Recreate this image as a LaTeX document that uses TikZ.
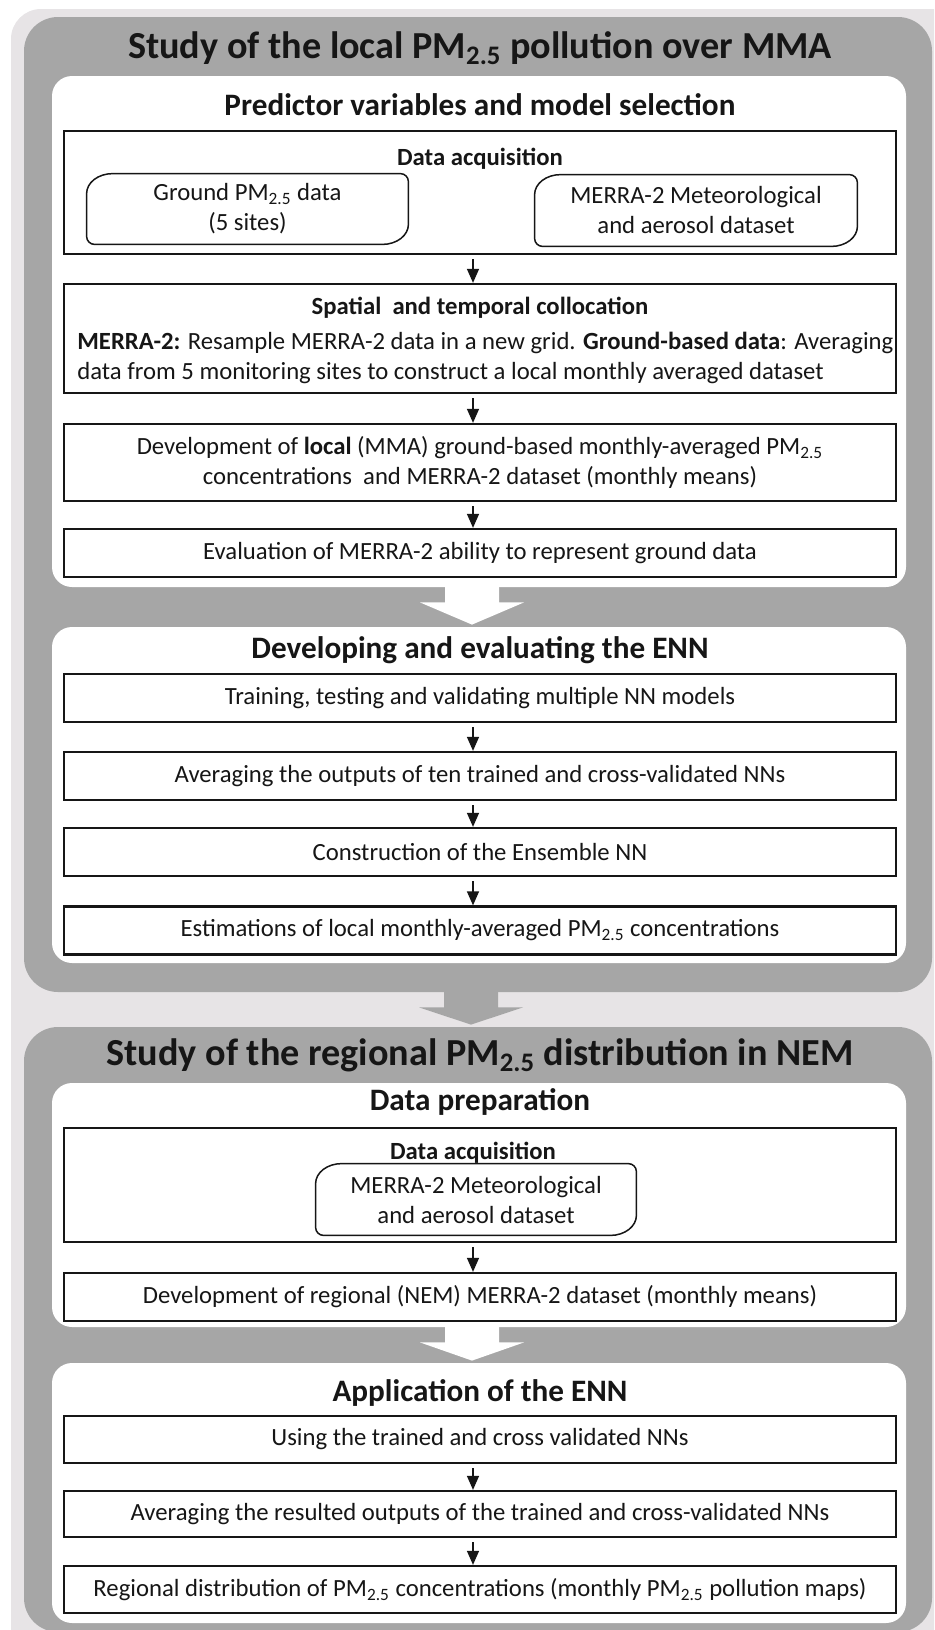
\documentclass[tikz,border=0pt]{standalone}
\usepackage{fontspec}
\setmainfont{Carlito}
\usetikzlibrary{arrows.meta,calc}
\definecolor{bgl}{RGB}{231,228,230}
\definecolor{bgd}{RGB}{166,166,166}
\definecolor{ink}{RGB}{22,22,22}
\newcommand\bodyfont{\fontsize{12.35}{15}\selectfont}
\newcommand\subfont{\fontsize{15.6}{18}\selectfont\bfseries}
\newcommand\headfont{\fontsize{19.1}{22}\selectfont\bfseries}
\newcommand\pmsub{PM\textsubscript{2.5}}
\newcommand\pillpath[1]{%
  \draw[ink, line width=0.75pt]
    ([xshift=13pt]#1.north west) -- ([xshift=-4pt]#1.north east)
    arc[start angle=90, end angle=0, radius=4pt]
    -- ([yshift=10pt]#1.south east)
    arc[start angle=0, end angle=-90, x radius=13pt, y radius=10pt]
    -- ([xshift=4pt]#1.south west)
    arc[start angle=270, end angle=180, radius=4pt]
    -- ([yshift=-10pt]#1.north west)
    arc[start angle=180, end angle=90, x radius=13pt, y radius=10pt]
    -- cycle;}
\newcommand\blockarr[3]{%
  \coordinate (#3tip) at ($(#2.north)+(-7,2)$);
  \coordinate (#3base) at (#1.south -| #3tip);
  \fill[#3] ($(#3base)+(-27,3)$) -- ($(#3base)+(27,3)$) -- ($(#3base)+(27,-15)$)
    -- ($(#3base)+(52,-15)$) -- (#3tip) -- ($(#3base)+(-52,-15)$)
    -- ($(#3base)+(-27,-15)$) -- cycle;}
\tikzset{
  greybox/.style={fill=bgd, rounded corners=17pt, inner sep=0pt, minimum width=454pt},
  panel/.style={fill=white, rounded corners=10pt, inner sep=0pt, minimum width=427pt},
  box/.style={draw=ink, line width=1.15pt, fill=white, minimum width=416pt, inner sep=0pt,
    align=center, font=\bodyfont, text=ink},
  pill/.style={inner sep=0pt, align=center, font=\bodyfont, text=ink},
  head/.style={font=\headfont, text=ink, inner sep=0pt},
  sub/.style={font=\subfont, text=ink, inner sep=0pt},
  lbl/.style={font=\bodyfont\bfseries, text=ink, inner sep=0pt},
  txt/.style={font=\bodyfont, text=ink, inner sep=0pt},
  arr/.style={draw=ink, line width=0.65pt, -{Triangle[width=6pt,length=7pt]}, shorten <=2pt}
}
\begin{document}
\begin{tikzpicture}[x=0.5pt,y=0.5pt]
\useasboundingbox (0,0) rectangle (934,-1630);
\clip (0,0) rectangle (934,-1630);
\fill[bgl, rounded corners=15pt] (11,-9) rectangle (990,-1700);
% grey sections
\node[greybox, minimum height=487.5pt] (g1) at (478,-504.5) {};
\node[greybox, minimum height=302.5pt] (g2) at (478,-1329.5) {};
% white panels
\node[panel, minimum height=255.5pt] (w1) at (479,-331.5) {};
\node[panel, minimum height=168pt] (w2) at (479,-795) {};
\node[panel, minimum height=122pt] (w3) at (479,-1205) {};
\node[panel, minimum height=130pt] (w4) at (479,-1493) {};
\blockarr{w1}{w2}{white}
\blockarr{g1}{g2}{bgd}
\blockarr{w3}{w4}{white}
% titles
\node[head] (t1) at (480,-48) {Study of the local \pmsub{} pollution over MMA};
\node[head] (t2) at (480,-1055) {Study of the regional \pmsub{} distribution in NEM};
\node[sub] (s1) at (480,-105) {Predictor variables and model selection};
\node[sub] (s2) at (480,-650) {Developing and evaluating the ENN};
\node[sub] (s3) at (480,-1102) {Data preparation};
\node[sub] (s4) at (480,-1393) {Application of the ENN};
% section 1 boxes
\node[box, minimum height=61.5pt] (da1) at (480,-192.5) {};
\node[lbl] (dal1) at (480,-159) {Data acquisition};
\node[pill, minimum width=160.5pt, minimum height=35pt] (p1) at (247.5,-209) {Ground \pmsub{} data\\(5 sites)};
\node[pill, minimum width=161pt, minimum height=35.5pt] (p2) at (696,-210.5) {MERRA-2 Meteorological\\and aerosol dataset};
\pillpath{p1}
\pillpath{p2}
\node[box, minimum height=54.5pt] (sp) at (480,-338.5) {};
\node[lbl] (spt) at (480,-308) {Spatial\ \ and temporal collocation};
\node[txt, align=left, anchor=west] (spb) at (77,-358) {\textbf{MERRA-2:} Resample MERRA-2 data in a new grid. \textbf{Ground-based data}: Averaging\\data from 5 monitoring sites to construct a local monthly averaged dataset};
\node[box, minimum height=38.5pt] (dv) at (480,-462.5) {Development of \textbf{local} (MMA) ground-based monthly-averaged \pmsub\\concentrations\ \ and MERRA-2 dataset (monthly means)};
\node[box, minimum height=24pt] (ev) at (480,-553) {Evaluation of MERRA-2 ability to represent ground data};
\node[box, minimum height=24pt] (tr) at (480,-698) {Training, testing and validating multiple NN models};
\node[box, minimum height=24pt] (av) at (480,-776) {Averaging the outputs of ten trained and cross-validated NNs};
\node[box, minimum height=24pt] (co) at (480,-852) {Construction of the Ensemble NN};
\node[box, minimum height=24pt] (es) at (480,-930.5) {Estimations of local monthly-averaged \pmsub{} concentrations};
% section 2 boxes
\node[box, minimum height=57pt] (da2) at (480,-1185) {};
\node[lbl] (dal2) at (473,-1153) {Data acquisition};
\node[pill, minimum width=160pt, minimum height=35.5pt] (p3) at (476,-1199.5) {MERRA-2 Meteorological\\and aerosol dataset};
\pillpath{p3}
\node[box, minimum height=24pt] (dr) at (480,-1297) {Development of regional (NEM) MERRA-2 dataset (monthly means)};
\node[box, minimum height=23.5pt] (us) at (480,-1439.5) {Using the trained and cross validated NNs};
\node[box, minimum height=23pt] (ar) at (480,-1514) {Averaging the resulted outputs of the trained and cross-validated NNs};
\node[box, minimum height=23.5pt] (rd) at (480,-1589.5) {Regional distribution of \pmsub{} concentrations (monthly \pmsub{} pollution maps)};
% connectors
\draw[arr] ([xshift=-3.5pt]da1.south) -- ([xshift=-3.5pt]sp.north);
\draw[arr] ([xshift=-3.5pt]sp.south) -- ([xshift=-3.5pt]dv.north);
\draw[arr] ([xshift=-3.5pt]dv.south) -- ([xshift=-3.5pt]ev.north);
\draw[arr] ([xshift=-3.5pt]tr.south) -- ([xshift=-3.5pt]av.north);
\draw[arr] ([xshift=-3.5pt]av.south) -- ([xshift=-3.5pt]co.north);
\draw[arr] ([xshift=-3.5pt]co.south) -- ([xshift=-3.5pt]es.north);
\draw[arr] ([xshift=-3.5pt]da2.south) -- ([xshift=-3.5pt]dr.north);
\draw[arr] ([xshift=-3.5pt]us.south) -- ([xshift=-3.5pt]ar.north);
\draw[arr] ([xshift=-3.5pt]ar.south) -- ([xshift=-3.5pt]rd.north);
\end{tikzpicture}
\end{document}
